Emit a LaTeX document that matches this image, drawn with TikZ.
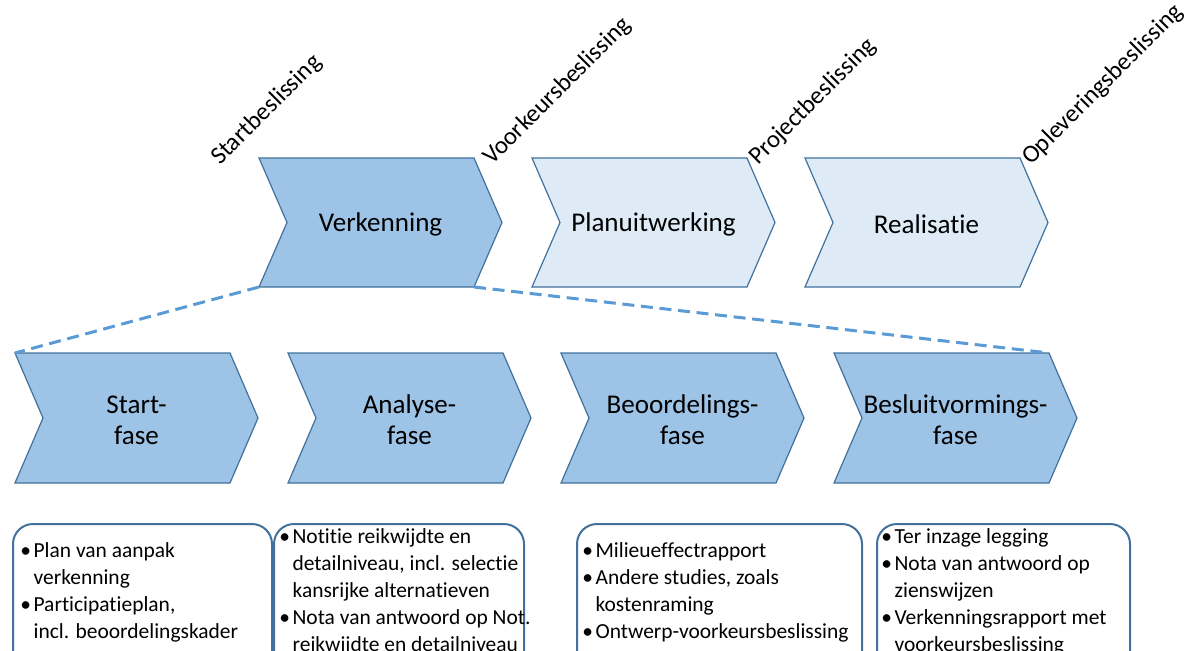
\documentclass[tikz,border=0pt]{standalone}
\usepackage{fontspec}
\setmainfont{Carlito}[Ligatures=NoCommon]
\definecolor{chevdark}{HTML}{9DC3E6}
\definecolor{chevlight}{HTML}{DEEBF7}
\definecolor{chevline}{HTML}{41719C}
\definecolor{dashblue}{HTML}{5B9BD5}
\newcommand\bul{\makebox[10pt][l]{\textbullet}}
\newcommand\ind{\hspace*{10pt}}
% #1 style, #2 x, #3 y, #4 height, #5 name, #6 text
\newcommand\chevron[6]{%
  \path[#1] (#2,#3) -- ++(215,0) -- ++(28,#4/2) -- ++(-28,#4/2) -- ++(-215,0) -- ++(28,-#4/2) -- cycle;
  \coordinate (#5-nw) at (#2,#3);
  \coordinate (#5-ne) at (#2+215,#3);
  \coordinate (#5-sw) at (#2,#3+#4);
  \coordinate (#5-se) at (#2+215,#3+#4);
  \node[chevtext] (#5) at (#2+121.5,#3+#4/2+2) {#6};
}
\begin{document}
\begin{tikzpicture}[x=0.75pt,y=-0.75pt,
  chev/.style={draw=chevline, line width=0.9pt, line join=miter},
  dark/.style={chev, fill=chevdark},
  light/.style={chev, fill=chevlight},
  chevtext/.style={font=\fontsize{20.3}{23.25}\selectfont, align=center, inner sep=0pt},
  decision/.style={font=\fontsize{18.6}{21}\selectfont, anchor=base west, rotate=45, inner sep=0pt},
  infobox/.style={draw=chevline, line width=1.5pt, rounded corners=15pt},
  itemtext/.style={font=\fontsize{16.1}{20.25}\selectfont, anchor=base west, inner sep=0pt},
  zoomline/.style={draw=dashblue, line width=2.25pt, dash pattern=on 9pt off 5pt},
]
\useasboundingbox (0,0) rectangle (1200,650);
\clip (0,0) rectangle (1200,650);

% top row
\chevron{dark}{259}{158}{129}{verk}{Verkenning}
\chevron{light}{532}{158}{129}{plan}{Planuitwerking}
\chevron{light}{805}{158}{129}{real}{Realisatie}

% decisions
\node[decision] (d1) at (220,166) {Startbeslissing};
\node[decision] (d2) at (492,166) {Voorkeursbeslissing};
\node[decision] (d3) at (758,166) {Projectbeslissing};
\node[decision] (d4) at (1031,166) {Opleveringsbeslissing};

% bottom row
\chevron{dark}{15}{353}{130}{start}{Start-\\fase}
\chevron{dark}{288}{353}{130}{anal}{Analyse-\\fase}
\chevron{dark}{561}{353}{130}{beoo}{Beoordelings-\\fase}
\chevron{dark}{834}{353}{130}{besl}{Besluitvormings-\\fase}

% zoom lines
\draw[zoomline] (verk-sw) -- (start-nw);
\draw[zoomline] (verk-se) -- (besl-ne);

% info boxes
\draw[infobox] (13,524) rectangle (272,690);
\draw[infobox] (274,524) rectangle (524,690);
\draw[infobox] (577,524) rectangle (862,690);
\draw[infobox] (877,524) rectangle (1130,690);

\node[itemtext] (t1) at (20,557) {\begin{tabular}[t]{@{}l@{}}\bul Plan van aanpak\\ \ind verkenning\\ \bul Participatieplan,\\ \ind incl. beoordelingskader\end{tabular}};
\node[itemtext] (t2) at (279,543) {\begin{tabular}[t]{@{}l@{}}\bul Notitie reikwijdte en\\ \ind detailniveau, incl. selectie\\ \ind kansrijke alternatieven\\ \bul Nota van antwoord op Not.\\ \ind reikwijdte en detailniveau\end{tabular}};
\node[itemtext] (t3) at (582,557) {\begin{tabular}[t]{@{}l@{}}\bul Milieueffectrapport\\ \bul Andere studies, zoals\\ \ind kostenraming\\ \bul Ontwerp-voorkeursbeslissing\end{tabular}};
\node[itemtext] (t4) at (881,543) {\begin{tabular}[t]{@{}l@{}}\bul Ter inzage legging\\ \bul Nota van antwoord op\\ \ind zienswijzen\\ \bul Verkenningsrapport met\\ \ind voorkeursbeslissing\end{tabular}};
\end{tikzpicture}
\end{document}
